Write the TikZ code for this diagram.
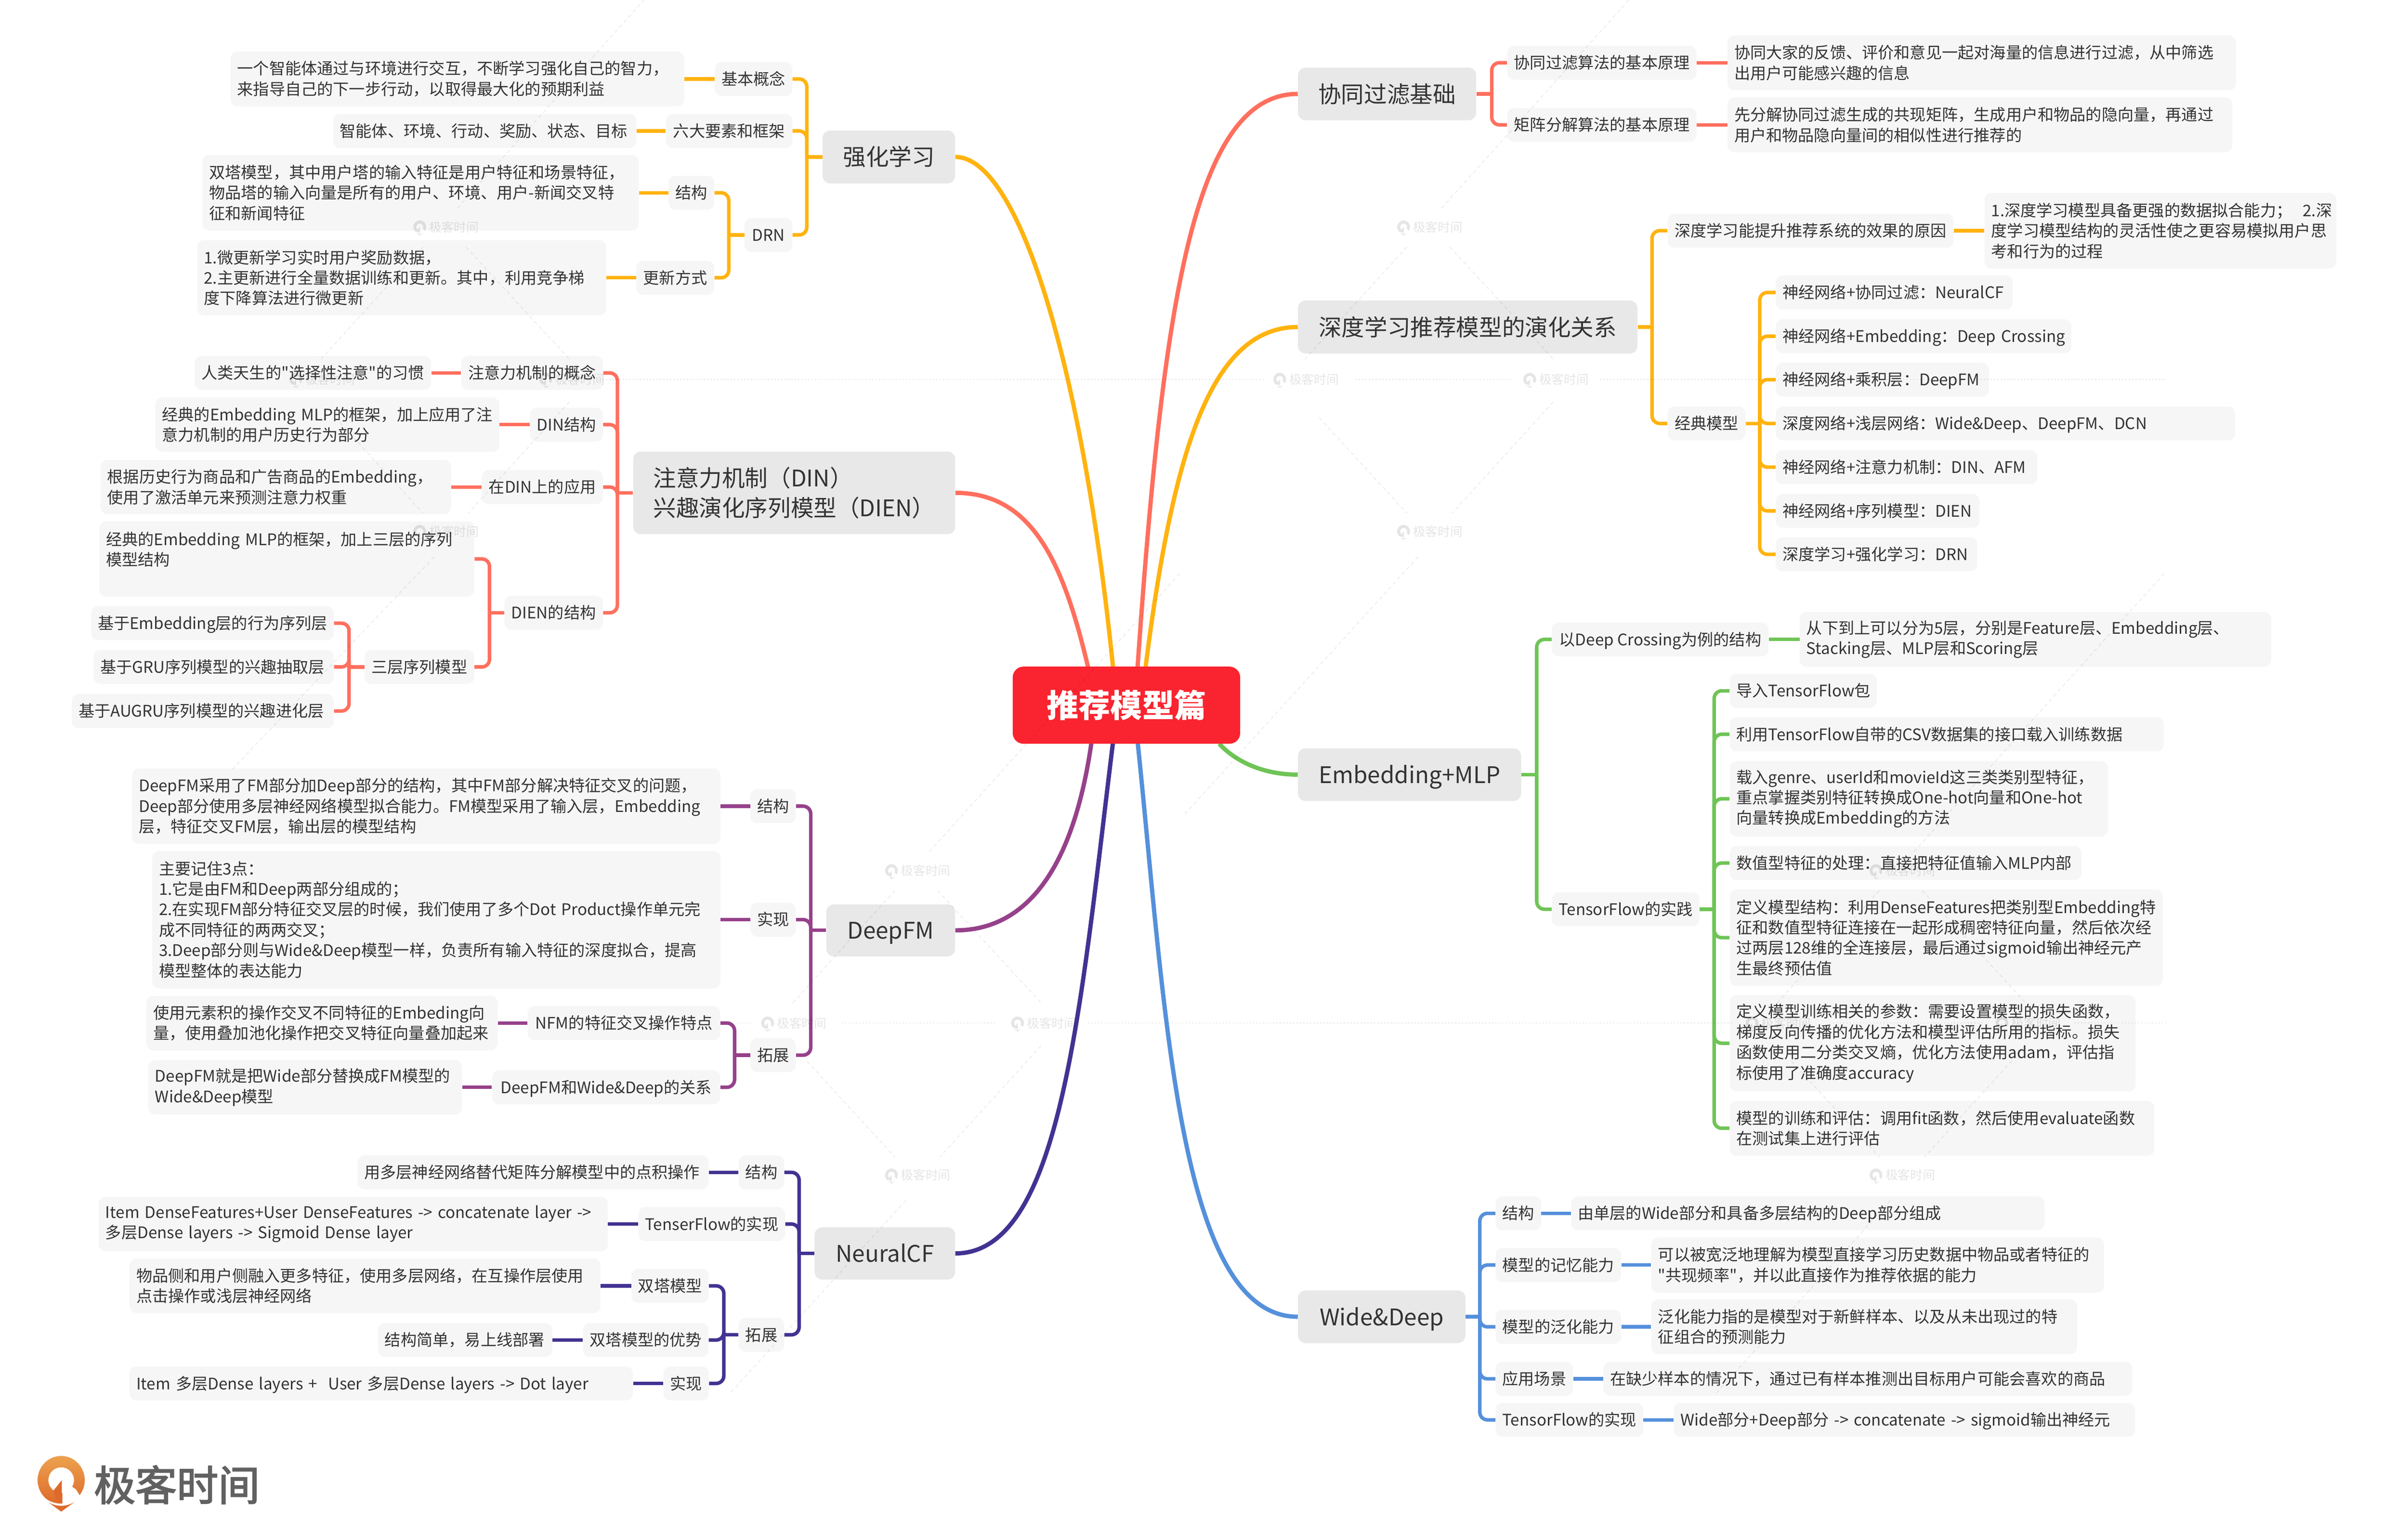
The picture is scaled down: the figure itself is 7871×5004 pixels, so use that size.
\documentclass[tikz,border=0pt]{standalone}
\usepackage{fontspec}
\setmainfont{Noto Sans CJK SC}[Ligatures=TeXOff]
\definecolor{myYellow}{HTML}{FFB30F}
\definecolor{myCoral}{HTML}{FF6F5E}
\definecolor{myGreen}{HTML}{6FC456}
\definecolor{myBlue}{HTML}{5590DB}
\definecolor{myPurple}{HTML}{96418B}
\definecolor{myNavy}{HTML}{433292}
\definecolor{myRed}{HTML}{F9242F}
\definecolor{myText}{HTML}{333333}
\definecolor{myLeaf}{HTML}{F7F6F7}
\definecolor{myTopic}{HTML}{E8E8E8}
\tikzset{
	box/.style = {anchor = west, fill = myLeaf, rounded corners = 0.22cm, inner xsep = 0.22cm, inner ysep = 0pt,
		minimum height = 1.11cm, text = myText, text height = 12.9pt, text depth = 1.8pt, font = \fontsize{14.85}{19}\selectfont},
	bw/.style = {text width = #1cm-0.44cm, align = left},
	kw/.style = {minimum width = #1cm},
	bh/.style = {minimum height = #1cm, text height = , text depth = },
	topic/.style = {anchor = west, fill = myTopic, rounded corners = 0.25cm, inner xsep = 0pt, inner ysep = 0pt, align = left,
		text = myText, font = \fontsize{21.3}{27.6}\selectfont},
	single/.style = {align = center, text height = 18.7pt, text depth = 2.6pt},
	link/.style = {line width = 0.115cm, #1},
	bend/.style = {line width = 0.115cm, rounded corners = 0.25cm, #1},
	branch/.style = {line width = 0.14cm, #1},
	wmark/.style = {black, opacity = 0.1, font = \fontsize{11.5}{14}\selectfont},
	wdiag/.style = {black, opacity = 0.07, line width = 0.03cm, dash pattern = on 0.12cm off 0.1cm},
	wflat/.style = {black, opacity = 0.1, line width = 0.035cm, dash pattern = on 0.04cm off 0.07cm},
	pics/gkpin/.style 2 args = {code = {
		\shade [top color = #1, bottom color = #2, even odd rule] (0, 0) ellipse (77 and 79) (0, 0) ellipse (42 and 42);
		\fill [white] (4, 0) -- (48, 30) -- (70, 65) -- (40, 72) -- (4, 80) -- cycle;
		\fill [#2] (2, 0) -- (-25, 34) -- (-20, 60) -- (2, 77) -- cycle;
		\draw [white, line width = 0.05cm] (-48, 66) .. controls (-15, 84) and (15, 84) .. (48, 66);
		\fill [#2] (-42, 72) .. controls (-15, 88) and (15, 88) .. (43, 72) -- (0, 103) -- cycle;
	}},
}
\definecolor{pinTop}{HTML}{EDA24F}
\definecolor{pinBottom}{HTML}{DD6A2B}

\begin{document}
\begin{tikzpicture}[x = 0.01cm, y = -0.01cm]
		\useasboundingbox (0, 0) rectangle (7871, 5004);
		%%%%%%%%%%%%% left side, 强化学习
		\node [topic, single, minimum width = 4.33cm, minimum height = 1.73cm] (qx) at (2688, 513) {强化学习};
		\node [box, kw = 2.53] (qxa) at (2336, 258) {基本概念};
		\node [box, bw = 14.82, bh = 1.79] (qxal) at (753, 258) {一个智能体通过与环境进行交互，不断学习强化自己的智力，\\来指导自己的下一步行动，以取得最大化的预期利益};
		\node [box, kw = 4.13] (qxb) at (2176, 428) {六大要素和框架};
		\node [box, bw = 9.91] (qxbl) at (1088, 428) {智能体、环境、行动、奖励、状态、目标};
		\node [box, kw = 1.56] (drn) at (2433, 768) {DRN};
		\node [box, kw = 1.49] (drna) at (2185, 630) {结构};
		\node [box, bw = 14.25, bh = 2.47] (drnal) at (661, 630) {双塔模型，其中用户塔的输入特征是用户特征和场景特征，\\物品塔的输入向量是所有的用户、环境、用户-新闻交叉特\\征和新闻特征};
		\node [box, kw = 2.55] (drnb) at (2079, 908) {更新方式};
		\node [box, bw = 13.36, bh = 2.46] (drnbl) at (644, 908) {1.微更新学习实时用户奖励数据，\\2.主更新进行全量数据训练和更新。其中，利用竞争梯\\度下降算法进行微更新};
		%%%%%%%%%%%%% left side, 注意力机制
		\node [topic, minimum width = 10.52cm, minimum height = 2.7cm] (din) at (2069, 1611) {注意力机制（DIN）\\兴趣演化序列模型（DIEN）};
		\node [box, kw = 4.63] (dina) at (1507, 1219) {注意力机制的概念};
		\node [box, bw = 7.72] (dinal) at (636, 1219) {人类天生的"选择性注意"的习惯};
		\node [box, kw = 2.38] (dinb) at (1732, 1388) {DIN结构};
		\node [box, bw = 11.24, bh = 1.77] (dinbl) at (507, 1388) {\mbox{经典的Embedding MLP的框架，加上应用了注}\\意力机制的用户历史行为部分};
		\node [box, kw = 3.96] (dinc) at (1574, 1592) {在DIN上的应用};
		\node [box, bw = 11.45, bh = 1.77] (dincl) at (328, 1592) {根据历史行为商品和广告商品的Embedding，\\使用了激活单元来预测注意力权重};
		\node [box, kw = 3.22] (dien) at (1648, 2003) {DIEN的结构};
		\node [box, bw = 12.25, bh = 2.46] (diena) at (324, 1827) {\mbox{经典的Embedding MLP的框架，加上三层的序列}\\模型结构\\\mbox{}};
		\node [box, kw = 3.58] (dienb) at (1191, 2180) {三层序列模型};
		\node [box, bw = 7.93] (dienba) at (297, 2037) {基于Embedding层的行为序列层};
		\node [box, bw = 7.85] (dienbb) at (305, 2180) {基于GRU序列模型的兴趣抽取层};
		\node [box, bw = 8.56] (dienbc) at (234, 2324) {基于AUGRU序列模型的兴趣进化层};
		%%%%%%%%%%%%% left side, DeepFM
		\node [topic, single, minimum width = 4.21cm, minimum height = 1.7cm] (fm) at (2700, 3041) {DeepFM};
		\node [box, kw = 1.47] (fma) at (2452, 2635) {结构};
		\node [box, bw = 19.22, bh = 2.46] (fmal) at (431, 2635) {\mbox{DeepFM采用了FM部分加Deep部分的结构，其中FM部分解决特征交叉的问题，}\\\mbox{Deep部分使用多层神经网络模型拟合能力。FM模型采用了输入层，Embedding}\\层，特征交叉FM层，输出层的模型结构};
		\node [box, kw = 1.47] (fmb) at (2452, 3006) {实现};
		\node [box, bw = 18.56, bh = 4.49] (fmbl) at (497, 3006) {主要记住3点：\\1.它是由FM和Deep两部分组成的；\\\mbox{2.在实现FM部分特征交叉层的时候，我们使用了多个Dot Product操作单元完}\\成不同特征的两两交叉；\\3.Deep部分则与Wide\&Deep模型一样，负责所有输入特征的深度拟合，提高\\模型整体的表达能力};
		\node [box, kw = 1.47] (fmc) at (2452, 3449) {拓展};
		\node [box, kw = 6.29] (fmd) at (1724, 3344) {NFM的特征交叉操作特点};
		\node [box, bw = 11.47, bh = 1.78] (fmdl) at (478, 3344) {使用元素积的操作交叉不同特征的Embeding向\\量，使用叠加池化操作把交叉特征向量叠加起来};
		\node [box, kw = 7.45] (fme) at (1608, 3554) {DeepFM和Wide\&Deep的关系};
		\node [box, bw = 10.25, bh = 1.77] (fmel) at (484, 3554) {DeepFM就是把Wide部分替换成FM模型的\\Wide\&Deep模型};
		%%%%%%%%%%%%% left side, NeuralCF
		\node [topic, single, minimum width = 4.59cm, minimum height = 1.71cm] (cf) at (2662, 4097) {NeuralCF};
		\node [box, kw = 1.47] (cfa) at (2414, 3832) {结构};
		\node [box, bw = 11.47] (cfal) at (1168, 3832) {用多层神经网络替代矩阵分解模型中的点积操作};
		\node [box, kw = 4.75] (cfb) at (2086, 4001) {TenserFlow的实现};
		\node [box, bw = 16.63, bh = 1.78] (cfbl) at (322, 4001) {\mbox{Item DenseFeatures+User DenseFeatures -> concatenate layer ->}\\多层Dense layers -> Sigmoid Dense layer};
		\node [box, kw = 1.47] (cfc) at (2414, 4363) {拓展};
		\node [box, kw = 2.52] (cfd) at (2063, 4203) {双塔模型};
		\node [box, bw = 15.38, bh = 1.78] (cfdl) at (423, 4203) {物品侧和用户侧融入更多特征，使用多层网络，在互操作层使用\\点击操作或浅层神经网络};
		\node [box, kw = 4.1] (cfe) at (1905, 4380) {双塔模型的优势};
		\node [box, bw = 5.69] (cfel) at (1235, 4380) {结构简单，易上线部署};
		\node [box, kw = 1.47] (cff) at (2168, 4522) {实现};
		\node [box, bw = 16.44] (cffl) at (423, 4522) {Item 多层Dense layers +~ User 多层Dense layers -> Dot layer};
		%%%%%%%%%%%%% right side, 协同过滤基础
		\node [topic, single, minimum width = 5.82cm, minimum height = 1.72cm] (xt) at (4242, 307) {协同过滤基础};
		\node [box, kw = 6.18] (xta) at (4926, 205) {协同过滤算法的基本原理};
		\node [box, bw = 16.61, bh = 1.79] (xtal) at (5646, 205) {协同大家的反馈、评价和意见一起对海量的信息进行过滤，从中筛选\\出用户可能感兴趣的信息};
		\node [box, kw = 6.18] (xtb) at (4926, 408) {矩阵分解算法的基本原理};
		\node [box, bw = 16.49, bh = 1.8] (xtbl) at (5646, 408) {先分解协同过滤生成的共现矩阵，生成用户和物品的隐向量，再通过\\用户和物品隐向量间的相似性进行推荐的};
		%%%%%%%%%%%%% right side, 深度学习
		\node [topic, single, minimum width = 11.09cm, minimum height = 1.73cm] (sd) at (4242, 1069) {深度学习推荐模型的演化关系};
		\node [box, kw = 9.34] (sda) at (5450, 754) {深度学习能提升推荐系统的效果的原因};
		\node [box, bw = 11.49, bh = 2.47] (sdal) at (6486, 754) {\mbox{1.深度学习模型具备更强的数据拟合能力；~ 2.深}\\度学习模型结构的灵活性使之更容易模拟用户思\\考和行为的过程};
		\node [box, kw = 2.55] (sdb) at (5450, 1384) {经典模型};
		\node [box, bw = 7.74] (sdc) at (5804, 956) {神经网络+协同过滤：NeuralCF};
		\node [box, bw = 9.65] (sdd) at (5804, 1099) {\mbox{神经网络+Embedding：Deep Crossing}};
		\node [box, bw = 6.96] (sde) at (5804, 1241) {神经网络+乘积层：DeepFM};
		\node [box, bw = 15] (sdf) at (5804, 1384) {深度网络+浅层网络：Wide\&Deep、DeepFM、DCN};
		\node [box, bw = 8.54] (sdg) at (5804, 1527) {神经网络+注意力机制：DIN、AFM};
		\node [box, bw = 6.65] (sdh) at (5804, 1670) {神经网络+序列模型：DIEN};
		\node [box, bw = 6.58] (sdi) at (5804, 1812) {深度学习+强化学习：DRN};
		%%%%%%%%%%%%% right side, Embedding+MLP
		\node [topic, single, minimum width = 7.29cm, minimum height = 1.72cm] (em) at (4242, 2532) {Embedding+MLP};
		\node [box, kw = 7.08] (ema) at (5072, 2090) {以Deep Crossing为例的结构};
		\node [box, bw = 15.4, bh = 1.79] (emal) at (5882, 2090) {从下到上可以分为5层，分别是Feature层、Embedding层、\\Stacking层、MLP层和Scoring层};
		\node [box, kw = 4.79] (emb) at (5072, 2972) {TensorFlow的实践};
		\node [box, bw = 4.81] (emc) at (5653, 2258) {导入TensorFlow包};
		\node [box, bw = 14.18] (emd) at (5653, 2400) {利用TensorFlow自带的CSV数据集的接口载入训练数据};
		\node [box, bw = 12.36, bh = 2.46] (eme) at (5653, 2611) {载入genre、userId和movieId这三类类别型特征，\\重点掌握类别特征转换成One-hot向量和One-hot\\向量转换成Embedding的方法};
		\node [box, bw = 11.49] (emf) at (5653, 2821) {数值型特征的处理：直接把特征值输入MLP内部};
		\node [box, bw = 14.15, bh = 3.15] (emg) at (5653, 3065) {定义模型结构：利用DenseFeatures把类别型Embedding特\\征和数值型特征连接在一起形成稠密特征向量，然后依次经\\过两层128维的全连接层，最后通过sigmoid输出神经元产\\生最终预估值};
		\node [box, bw = 13.26, bh = 3.15] (emh) at (5653, 3410) {定义模型训练相关的参数：需要设置模型的损失函数，\\梯度反向传播的优化方法和模型评估所用的指标。损失\\函数使用二分类交叉熵，优化方法使用adam，评估指\\标使用了准确度accuracy};
		\node [box, bw = 13.87, bh = 1.79] (emi) at (5653, 3688) {模型的训练和评估：调用fit函数，然后使用evaluate函数\\在测试集上进行评估};
		%%%%%%%%%%%%% right side, Wide&Deep
		\node [topic, single, minimum width = 5.47cm, minimum height = 1.72cm] (wd) at (4242, 4304) {Wide\&Deep};
		\node [box, kw = 1.47] (wda) at (4888, 3966) {结构};
		\node [box, bw = 15.46] (wdal) at (5135, 3966) {由单层的Wide部分和具备多层结构的Deep部分组成};
		\node [box, kw = 4.1] (wdb) at (4888, 4135) {模型的记忆能力};
		\node [box, bw = 14.79, bh = 1.8] (wdbl) at (5397, 4135) {可以被宽泛地理解为模型直接学习历史数据中物品或者特征的\\"共现频率"，并以此直接作为推荐依据的能力};
		\node [box, kw = 4.1] (wdc) at (4888, 4337) {模型的泛化能力};
		\node [box, bw = 13.91, bh = 1.79] (wdcl) at (5397, 4337) {泛化能力指的是模型对于新鲜样本、以及从未出现过的特\\征组合的预测能力};
		\node [box, kw = 2.51] (wdd) at (4888, 4507) {应用场景};
		\node [box, bw = 17.28] (wddl) at (5240, 4507) {在缺少样本的情况下，通过已有样本推测出目标用户可能会喜欢的商品};
		\node [box, kw = 4.8] (wde) at (4888, 4641) {TensorFlow的实现};
		\node [box, bw = 15.07] (wdel) at (5470, 4641) {Wide部分+Deep部分 -> concatenate -> sigmoid输出神经元};
		%%%%%%%%%%%%% spines
		\coordinate (qxs) at (2637, 513); \coordinate (drns) at (2382, 768);
		\coordinate (dins) at (2018, 1611); \coordinate (diens) at (1600, 2003); \coordinate (dienbs) at (1141, 2180);
		\coordinate (fms) at (2650, 3041); \coordinate (fmcs) at (2401, 3449);
		\coordinate (cfs) at (2612, 4097); \coordinate (cfcs) at (2366, 4363);
		\coordinate (xts) at (4876, 307); \coordinate (sds) at (5400, 1069); \coordinate (sdbs) at (5752, 1384);
		\coordinate (ems) at (5023, 2532); \coordinate (embs) at (5603, 2972); \coordinate (wds) at (4837, 4304);
		%%%%%%%%%%%%% connectors, left side
		\draw [link = myYellow] (qx) -- (qxs); \draw [link = myYellow] (drn) -- (drns);
		\foreach \k in {qxa, qxb, drn} \draw [bend = myYellow] (qxs) |- (\k.east);
		\foreach \k in {drna, drnb} \draw [bend = myYellow] (drns) |- (\k.east);
		\foreach \k in {qxa, qxb, drna, drnb} \draw [link = myYellow] (\k.west) -- (\k l.east);
		\draw [link = myCoral] (din) -- (dins); \draw [link = myCoral] (dien) -- (diens); \draw [link = myCoral] (dienb) -- (dienbs);
		\foreach \k in {dina, dinb, dinc, dien} \draw [bend = myCoral] (dins) |- (\k.east);
		\foreach \k in {diena, dienb} \draw [bend = myCoral] (diens) |- (\k.east);
		\foreach \k in {dienba, dienbb, dienbc} \draw [bend = myCoral] (dienbs) |- (\k.east);
		\foreach \k in {dina, dinb, dinc} \draw [link = myCoral] (\k.west) -- (\k l.east);
		\draw [link = myPurple] (fm) -- (fms); \draw [link = myPurple] (fmc) -- (fmcs);
		\foreach \k in {fma, fmb, fmc} \draw [bend = myPurple] (fms) |- (\k.east);
		\foreach \k in {fmd, fme} \draw [bend = myPurple] (fmcs) |- (\k.east);
		\foreach \k in {fma, fmb, fmd, fme} \draw [link = myPurple] (\k.west) -- (\k l.east);
		\draw [link = myNavy] (cf) -- (cfs); \draw [link = myNavy] (cfc) -- (cfcs);
		\foreach \k in {cfa, cfb, cfc} \draw [bend = myNavy] (cfs) |- (\k.east);
		\foreach \k in {cfd, cfe, cff} \draw [bend = myNavy] (cfcs) |- (\k.east);
		\foreach \k in {cfa, cfb, cfd, cfe, cff} \draw [link = myNavy] (\k.west) -- (\k l.east);
		%%%%%%%%%%%%% connectors, right side
		\draw [link = myCoral] (xt) -- (xts);
		\foreach \k in {xta, xtb} {\draw [bend = myCoral] (xts) |- (\k.west); \draw [link = myCoral] (\k.east) -- (\k l.west);}
		\draw [link = myYellow] (sd) -- (sds); \draw [link = myYellow] (sdb) -- (sdbs);
		\foreach \k in {sda, sdb} \draw [bend = myYellow] (sds) |- (\k.west);
		\draw [link = myYellow] (sda) -- (sdal);
		\foreach \k in {sdc, sdd, sde, sdf, sdg, sdh, sdi} \draw [bend = myYellow] (sdbs) |- (\k.west);
		\draw [link = myGreen] (em) -- (ems); \draw [link = myGreen] (emb) -- (embs);
		\foreach \k in {ema, emb} \draw [bend = myGreen] (ems) |- (\k.west);
		\draw [link = myGreen] (ema) -- (emal);
		\foreach \k in {emc, emd, eme, emf, emg, emh, emi} \draw [bend = myGreen] (embs) |- (\k.west);
		\draw [link = myBlue] (wd) -- (wds);
		\foreach \k in {wda, wdb, wdc, wdd, wde} {\draw [bend = myBlue] (wds) |- (\k.west); \draw [link = myBlue] (\k.east) -- (\k l.west);}
		%%%%%%%%%%%%% branches from the root
		\coordinate (rqx) at (3640, 2200); \coordinate (rdin) at (3561, 2200); \coordinate (rxt) at (3717, 2200); \coordinate (rsd) at (3742, 2200);
		\coordinate (rfm) at (3570, 2410); \coordinate (rcf) at (3640, 2410); \coordinate (rwd) at (3717, 2410); \coordinate (rem) at (3985, 2431);
		\draw [branch = myYellow] (qx.east) .. controls (3330, 513) and (3540, 1200) .. (rqx);
		\draw [branch = myCoral] (din.east) .. controls (3380, 1611) and (3480, 1850) .. (rdin);
		\draw [branch = myCoral] (xt.west) .. controls (3900, 307) and (3800, 1000) .. (rxt);
		\draw [branch = myYellow] (sd.west) .. controls (3950, 1069) and (3830, 1500) .. (rsd);
		\draw [branch = myPurple] (fm.east) .. controls (3350, 3041) and (3510, 2850) .. (rfm);
		\draw [branch = myNavy] (cf.east) .. controls (3470, 4097) and (3530, 3300) .. (rcf);
		\draw [branch = myBlue] (wd.west) .. controls (3850, 4304) and (3810, 3300) .. (rwd);
		\draw [branch = myGreen] (em.west) .. controls (4130, 2532) and (4040, 2490) .. (rem);
		\node [fill = myRed, rounded corners = 0.35cm, minimum width = 7.43cm, minimum height = 2.52cm, text = white, font = \fontsize{29.6}{36}\selectfont\bfseries] (root) at (3682, 2305) {推荐模型篇};
		%%%%%%%%%%%%% logo
		\pic at (200, 4838) {gkpin = {pinTop}{pinBottom}};
		\node [text = black!62, font = \fontsize{38.5}{46}\selectfont\addfontfeature{FakeBold = 2.5}] (logo) at (578, 4853) {极客时间};
		%%%%%%%%%%%%% watermark
		\foreach \cx/\cy/\ux/\uy/\dx/\dy in {1455/1240/650/-742/-697/779, 4671/1240/653/-742/-802/928, 2997/3344/863/-976/-608/710, 6215/3344/863/-976/-604/712} {
			\draw [wdiag] (\cx-72, \cy-433) -- (\cx-406, \cy-66);
			\draw [wdiag] (\cx+68, \cy-433) -- (\cx+406, \cy-66);
			\draw [wdiag] (\cx-359, \cy+125) -- (\cx-72, \cy+438);
			\draw [wdiag] (\cx+406, \cy+74) -- (\cx+75, \cy+438);
			\draw [wdiag] (\cx+41, \cy-560) -- (\cx+\ux, \cy-498+\uy);
			\draw [wdiag] (\cx-36, \cy+580) -- (\cx+\dx, \cy+497+\dy);
			\foreach \wx/\wy in {\cx/\cy-498, \cx/\cy+497, \cx-405/\cy, \cx+412/\cy} {
				\begin{scope}[opacity = 0.1, transparency group]
					\pic [scale = 0.27] at (\wx-83, \wy) {gkpin = {black}{black}};
				\end{scope}
				\node [wmark] at (\wx+29, \wy) {极客时间};
			}
		}
		\draw [wflat] (1970, 1240) -- (4130, 1240); \draw [wflat] (4430, 1240) -- (4950, 1240); \draw [wflat] (5230, 1240) -- (7080, 1240);
		\draw [wflat] (2408, 3344) -- (2453, 3344); \draw [wflat] (2753, 3344) -- (3250, 3344); \draw [wflat] (3556, 3344) -- (5660, 3344);
		\draw [wflat] (5980, 3344) -- (6480, 3344); \draw [wflat] (6780, 3344) -- (7078, 3344);
\end{tikzpicture}
\end{document}
